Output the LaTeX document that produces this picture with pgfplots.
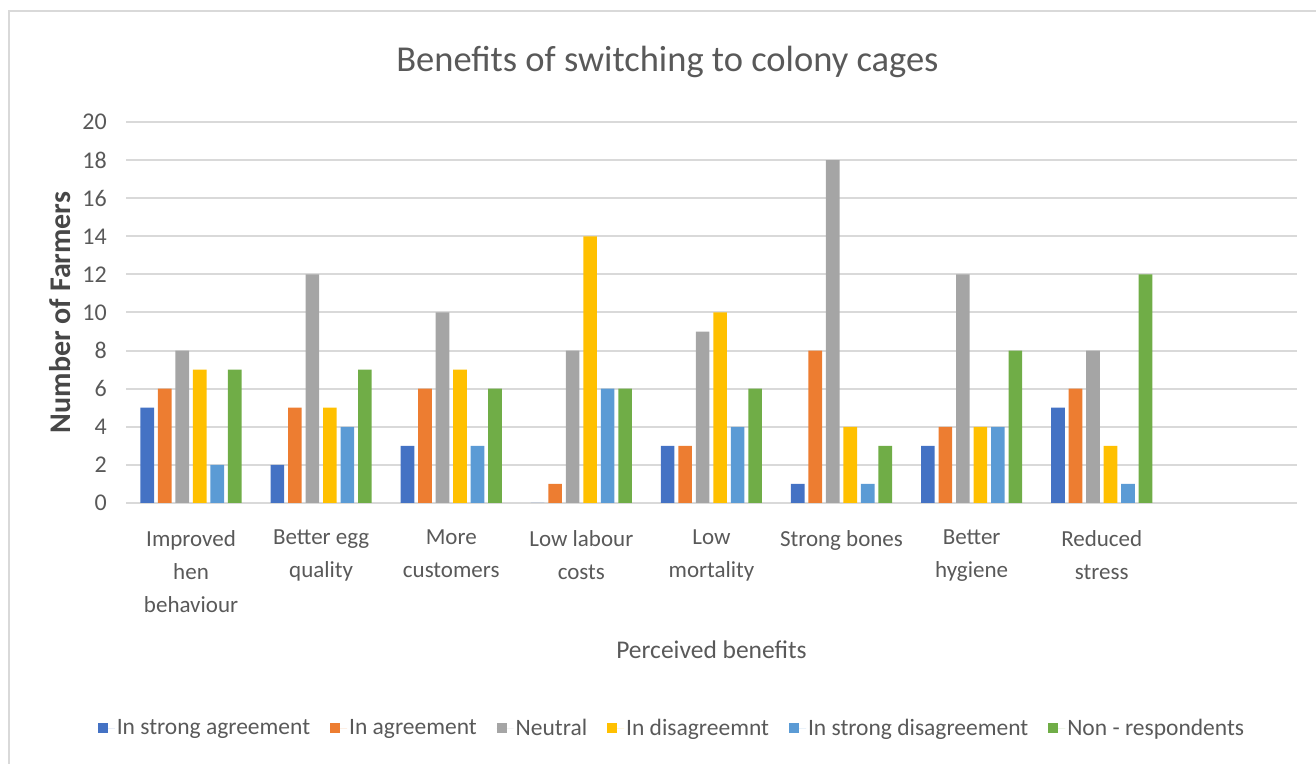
\documentclass[border=0pt]{standalone}
\usepackage{fontspec}
\setmainfont{Carlito}
\usepackage{pgfplots}
\usepackage{pgfplotstable}
\pgfplotsset{compat=1.18}
\definecolor{sagree}{HTML}{4472C4}
\definecolor{agree}{HTML}{ED7D31}
\definecolor{neutral}{HTML}{A5A5A5}
\definecolor{disagree}{HTML}{FFC000}
\definecolor{sdisagree}{HTML}{5B9BD5}
\definecolor{nonresp}{HTML}{70AD47}
\definecolor{txt}{HTML}{595959}
\definecolor{gridc}{HTML}{D9D9D9}

% x: category index; columns: series in legend order
\pgfplotstableread{
x sa a n d sd nr
0 5 6 8 7 2 7
1 2 5 12 5 4 7
2 3 6 10 7 3 6
3 0 1 8 14 6 6
4 3 3 9 10 4 6
5 1 8 18 4 1 3
6 3 4 12 4 4 8
7 5 6 8 3 1 12
}\benefits

\begin{document}
\begin{tikzpicture}
\path[use as bounding box] (0,0) rectangle (1316bp,764bp);
\draw[gridc, line width=2bp] (9bp,0) -- (9bp,753bp) -- (1316bp,753bp);
\begin{axis}[
  at={(126bp,261bp)}, anchor=south west,
  width=1171bp, height=381bp, scale only axis,
  ybar=3.9bp, bar width=13.6bp,
  xmin=-0.5, xmax=8.5, ymin=0, ymax=20,
  ytick={0,2,...,20},
  xtick={0,...,7},
  xticklabels={Improved\\hen\\behaviour, Better egg\\quality, More\\customers, Low labour\\costs, Low\\mortality, Strong bones, Better\\hygiene, Reduced\\stress},
  major tick length=0,
  axis line style={draw=none},
  ymajorgrids, grid style={gridc, line width=2bp},
  /pgf/number format/assume math mode=true,
  yticklabel style={anchor=east, inner sep=0pt, xshift=-19bp, text=txt, font=\fontsize{24bp}{28bp}\selectfont},
  xticklabel style={anchor=north, inner sep=0pt, yshift=-27bp, align=center, text=txt, font=\fontsize{23bp}{33bp}\selectfont},
  title={Benefits of switching to colony cages},
  title style={at={(axis description cs:0.5,1)}, anchor=base, xshift=-44bp, yshift=45bp, text=txt, font=\fontsize{36.5bp}{42bp}\selectfont},
  xlabel={Perceived benefits},
  xlabel style={at={(axis description cs:0.5,0)}, anchor=base, yshift=-155bp, text=txt, font=\fontsize{25.5bp}{30bp}\selectfont},
  ylabel={Number of Farmers},
  ylabel style={at={(axis description cs:0,0.5)}, anchor=center, yshift=66bp, text=black!72, font=\bfseries\fontsize{30bp}{34bp}\selectfont},
  legend columns=6,
  legend style={at={(axis description cs:0.5,0)}, anchor=center, xshift=-39.5bp, yshift=-225bp, draw=none, fill=none, text=txt, font=\fontsize{23.5bp}{28bp}\selectfont, /tikz/every even column/.append style={column sep=18bp}},
  legend image code/.code={\fill[#1] (0bp,-5bp) rectangle (10bp,5bp); \path (0bp,0bp) -- (17bp,0bp);},
]
\addplot[fill=sagree, draw=none] table[x=x, y=sa] {\benefits};
\addplot[fill=agree, draw=none] table[x=x, y=a] {\benefits};
\addplot[fill=neutral, draw=none] table[x=x, y=n] {\benefits};
\addplot[fill=disagree, draw=none] table[x=x, y=d] {\benefits};
\addplot[fill=sdisagree, draw=none] table[x=x, y=sd] {\benefits};
\addplot[fill=nonresp, draw=none] table[x=x, y=nr] {\benefits};
\legend{In strong agreement, In agreement, Neutral, In disagreemnt, In strong disagreement, Non - respondents}
\end{axis}
\end{tikzpicture}
\end{document}
